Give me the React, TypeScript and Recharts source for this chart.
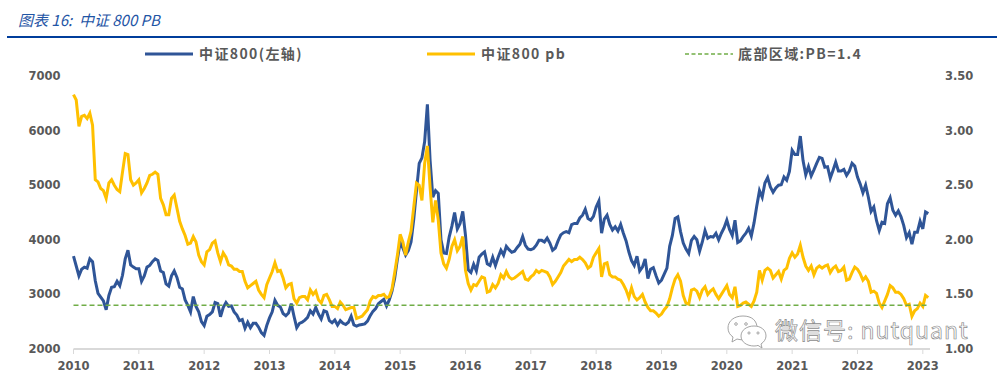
import { ComposedChart, Line, XAxis, YAxis } from 'recharts'

// half-monthly readings, one line per year
const CSI800 = [
  3700, 3520, 3340, 3460, 3500, 3480, 3650, 3600, 3250, 3020, 2950, 2880, 2720, 2980, 3130, 3140, 3240, 3160, 3350, 3650, 3810, 3540, 3500, 3470,
  3470, 3240, 3340, 3500, 3530, 3600, 3650, 3620, 3430, 3400, 3190, 3150, 3340, 3430, 3310, 3130, 3100, 2900, 2800, 2680, 2960, 2780, 2680, 2500,
  2430, 2600, 2630, 2680, 2850, 2830, 2590, 2760, 2850, 2780, 2790, 2680, 2620, 2520, 2540, 2380, 2490, 2390, 2470, 2470, 2400, 2300, 2250, 2430,
  2570, 2680, 2890, 2800, 2770, 2650, 2610, 2660, 2830, 2600, 2390, 2470, 2490, 2530, 2580, 2700, 2640, 2760, 2640, 2550, 2700, 2680, 2520, 2480,
  2530, 2440, 2520, 2470, 2450, 2490, 2600, 2440, 2420, 2440, 2450, 2460, 2510, 2610, 2690, 2740, 2830, 2870, 2910, 2790, 2900, 3060, 3300, 3650,
  3950, 3850, 3720, 3800, 3960, 4380, 4900, 5400, 5500, 5800, 6480, 5450, 4780, 4900, 4850, 4000, 3760, 3750, 4050, 4250, 4500, 4200, 4300, 4520,
  4080, 3450, 3400, 3550, 3430, 3680, 3740, 3780, 3560, 3530, 3680, 3530, 3680, 3810, 3720, 3880, 3820, 3770, 3790, 3860, 3920, 4060, 3900, 3830,
  3820, 3840, 3900, 3990, 3990, 3960, 4030, 3940, 3810, 3850, 3980, 4090, 4130, 4150, 4130, 4280, 4300, 4300, 4400, 4450, 4560, 4390, 4360, 4430,
  4600, 4710, 4120, 4380, 4450, 4280, 4180, 4240, 4160, 4280, 4120, 3980, 3780, 3620, 3530, 3700, 3430, 3500, 3650, 3290, 3460, 3490, 3340, 3210,
  3260, 3370, 3480, 3880, 4080, 4390, 4420, 4150, 3940, 3830, 3750, 3990, 4060, 4000, 3790, 3960, 4170, 4030, 4060, 4050, 4120, 4000, 4120, 4220,
  4360, 4190, 4080, 4360, 3950, 3980, 4060, 4120, 4210, 4070, 4310, 4620, 4900, 4780, 5040, 5140, 4970, 4870, 4950, 5000, 5010, 5150, 5090, 5250,
  5640, 5560, 5560, 5900, 5450, 5190, 5340, 5170, 5280, 5400, 5510, 5490, 5330, 5340, 5130, 5270, 5420, 5260, 5260, 5290, 5180, 5260, 5400, 5350,
  5150, 5020, 4860, 5000, 4780, 4520, 4600, 4350, 4170, 4320, 4300, 4660, 4770, 4540, 4450, 4530, 4420, 4260, 4040, 4130, 3920, 4140, 4140, 4340,
  4200, 4510, 4480,
]

const PB = [
  3.33, 3.28, 3.04, 3.13, 3.14, 3.11, 3.16, 3.05, 2.55, 2.53, 2.47, 2.45, 2.38, 2.52, 2.55, 2.5, 2.46, 2.44, 2.62, 2.79, 2.78, 2.55, 2.5, 2.52,
  2.55, 2.43, 2.47, 2.52, 2.59, 2.6, 2.62, 2.6, 2.38, 2.32, 2.23, 2.23, 2.38, 2.41, 2.29, 2.17, 2.1, 2.04, 1.96, 1.97, 2.03, 1.98, 1.86, 1.8,
  1.77, 1.89, 1.91, 1.97, 1.99, 1.88, 1.8, 1.88, 1.84, 1.77, 1.76, 1.73, 1.73, 1.71, 1.71, 1.62, 1.56, 1.58, 1.6, 1.62, 1.54, 1.5, 1.47, 1.59,
  1.65, 1.71, 1.79, 1.71, 1.72, 1.65, 1.56, 1.59, 1.6, 1.46, 1.42, 1.47, 1.48, 1.48, 1.45, 1.54, 1.5, 1.53, 1.45, 1.42, 1.49, 1.5, 1.45, 1.39,
  1.39, 1.37, 1.43, 1.4, 1.36, 1.37, 1.38, 1.38, 1.28, 1.29, 1.3, 1.33, 1.36, 1.44, 1.48, 1.47, 1.49, 1.49, 1.5, 1.47, 1.48, 1.55, 1.7, 1.86,
  2.05, 1.98, 1.86, 1.98, 2.08, 2.3, 2.52, 2.5, 2.36, 2.7, 2.86, 2.48, 2.16, 2.36, 2.18, 1.88, 1.78, 1.74, 1.82, 1.94, 2.0, 1.9, 1.94, 2.03,
  1.72, 1.6, 1.54, 1.59, 1.58, 1.62, 1.66, 1.65, 1.52, 1.53, 1.59, 1.56, 1.6, 1.68, 1.65, 1.71, 1.66, 1.64, 1.65, 1.67, 1.69, 1.71, 1.64, 1.63,
  1.66, 1.68, 1.72, 1.7, 1.72, 1.71, 1.7, 1.66, 1.59, 1.62, 1.66, 1.7, 1.76, 1.79, 1.82, 1.8, 1.82, 1.82, 1.84, 1.82, 1.79, 1.74, 1.76, 1.84,
  1.88, 1.92, 1.66, 1.78, 1.79, 1.68, 1.66, 1.66, 1.64, 1.63, 1.59, 1.54, 1.47, 1.56, 1.48, 1.45, 1.47, 1.5, 1.43, 1.38, 1.35, 1.35, 1.33, 1.3,
  1.32, 1.36, 1.39, 1.46, 1.56, 1.64, 1.68, 1.62, 1.49, 1.42, 1.41, 1.54, 1.55, 1.53, 1.47, 1.54, 1.57, 1.5, 1.53, 1.55, 1.5, 1.46, 1.5, 1.54,
  1.58, 1.5, 1.47, 1.57, 1.39, 1.4, 1.42, 1.43, 1.41, 1.39, 1.44, 1.52, 1.72, 1.63, 1.72, 1.74, 1.72, 1.65, 1.68, 1.71, 1.64, 1.72, 1.74, 1.83,
  1.88, 1.84, 1.87, 1.95, 1.84, 1.76, 1.72, 1.76, 1.68, 1.74, 1.76, 1.74, 1.76, 1.77, 1.7, 1.74, 1.76, 1.71, 1.72, 1.75, 1.63, 1.64, 1.7, 1.75,
  1.73, 1.69, 1.63, 1.66, 1.62, 1.52, 1.53, 1.51, 1.42, 1.38, 1.44, 1.5, 1.58, 1.56, 1.52, 1.52, 1.5, 1.46, 1.4, 1.41, 1.3, 1.35, 1.37, 1.42,
  1.39, 1.49, 1.47,
]

const BOTTOM_PB = 1.4
const YEARS = [2010, 2011, 2012, 2013, 2014, 2015, 2016, 2017, 2018, 2019, 2020, 2021, 2022, 2023]
const LEFT_TICKS = [2000, 3000, 4000, 5000, 6000, 7000]
const RIGHT_TICKS = [1, 1.5, 2, 2.5, 3, 3.5]

const LEGEND = [
  { label: '中证800(左轴)', color: '#2F5597', line: 145, text: 199, width: 3, dash: undefined },
  { label: '中证800 pb', color: '#FFC000', line: 427, text: 481, width: 3, dash: undefined },
  { label: '底部区域:PB=1.4', color: '#70AD47', line: 685, text: 738, width: 1.5, dash: '4 2.5' },
]

const rows = CSI800.map((index, i) => ({
  t: 2010 + i / 24,
  index,
  pb: PB[i],
  bottom: BOTTOM_PB,
}))

const tickStyle = {
  fill: '#595959',
  fontSize: 11.5,
  fontWeight: 700,
  fontFamily: 'DejaVu Sans',
}

function Watermark() {
  return (
    <>
      <svg
        width={44}
        height={34}
        viewBox="0 0 44 34"
        style={{ position: 'absolute', left: 726, top: 315 }}
        fill="#fff"
        stroke="#9a9a9a"
        strokeWidth={0.9}
      >
        <path d="M17 1C8 1 2 6 2 13c0 4 2 7 5 9l-1 5 5-3c2 .6 4 .8 6 .8 8 0 14-5 14-12S26 1 17 1z" />
        <path d="M28 11c-7 0-13 4-13 10s6 10 13 10c1.500 0 3-.2 4-.6l4 2.600-1-4c3-2 5-5 5-8 0-6-5-10-12-10z" />
        <circle cx={10} cy={9} r={1.3} />
        <circle cx={20} cy={9} r={1.3} />
        <circle cx={23} cy={18} r={1.1} />
        <circle cx={32} cy={18} r={1.1} />
      </svg>
      <div
        style={{
          position: 'absolute',
          left: 775,
          top: 317,
          height: 24,
          fontFamily: '"Noto Sans CJK SC"',
          fontSize: 23,
          lineHeight: '24px',
          letterSpacing: 1,
          color: '#fff',
          WebkitTextStroke: '0.7px #8c8c8c',
          whiteSpace: 'pre',
        }}
      >
        微信号: nutquant
      </div>
    </>
  )
}

export default function App() {
  return (
    <div style={{ position: 'absolute', left: 0, top: 0, width: 997, height: 375, background: '#fff', overflow: 'hidden' }}>
      <div
        style={{
          position: 'absolute',
          left: 18,
          top: 10,
          fontFamily: '"Noto Sans CJK SC"',
          fontStyle: 'italic',
          fontSize: 15,
          lineHeight: '20px',
          color: '#1F55A5',
          whiteSpace: 'pre',
        }}
      >
        图表 16:  中证 800 PB
      </div>
      <div style={{ position: 'absolute', left: 7, right: 0, top: 36, height: 2, background: '#003D9B' }} />

      {LEGEND.map((item) => (
        <div key={item.label}>
          <svg width={48} height={4} style={{ position: 'absolute', left: item.line, top: 52 }}>
            <line x1={0} x2={48} y1={2} y2={2} stroke={item.color} strokeWidth={item.width} strokeDasharray={item.dash} />
          </svg>
          <span
            style={{
              position: 'absolute',
              left: item.text,
              top: 43,
              fontFamily: '"Noto Sans CJK SC"',
              fontWeight: 700,
              fontSize: 14,
              lineHeight: '20px',
              letterSpacing: 1.4,
              color: '#595959',
              whiteSpace: 'pre',
            }}
          >
            {item.label}
          </span>
        </div>
      ))}

      <div style={{ position: 'absolute', left: 0, top: 0 }}>
        <ComposedChart width={997} height={375} data={rows} margin={{ top: 76, right: 0, bottom: 0, left: 0 }}>
          <XAxis
            dataKey="t"
            type="number"
            domain={[2010, 2023.11]}
            ticks={YEARS}
            height={26}
            interval={0}
            tick={tickStyle}
            tickSize={5}
            tickMargin={8}
            axisLine={{ stroke: '#D9D9D9', strokeWidth: 2 }}
            tickLine={{ stroke: '#D9D9D9' }}
          />
          <YAxis
            yAxisId="left"
            width={73.5}
            domain={[2000, 7000]}
            ticks={LEFT_TICKS}
            tick={tickStyle}
            tickMargin={7}
            axisLine={false}
            tickLine={false}
          />
          <YAxis
            yAxisId="right"
            orientation="right"
            width={67}
            domain={[1, 3.5]}
            ticks={RIGHT_TICKS}
            tick={tickStyle}
            tickFormatter={(v: number) => v.toFixed(2)}
            tickMargin={9}
            axisLine={false}
            tickLine={false}
          />
          <Line yAxisId="left" dataKey="index" type="linear" stroke="#2F5597" strokeWidth={3} dot={false} isAnimationActive={false} />
          <Line yAxisId="right" dataKey="pb" type="linear" stroke="#FFC000" strokeWidth={3} dot={false} isAnimationActive={false} />
          <Line
            yAxisId="right"
            dataKey="bottom"
            type="linear"
            stroke="#70AD47"
            strokeWidth={1.5}
            strokeDasharray="5 3"
            dot={false}
            isAnimationActive={false}
          />
        </ComposedChart>
      </div>

      <Watermark />
    </div>
  )
}
